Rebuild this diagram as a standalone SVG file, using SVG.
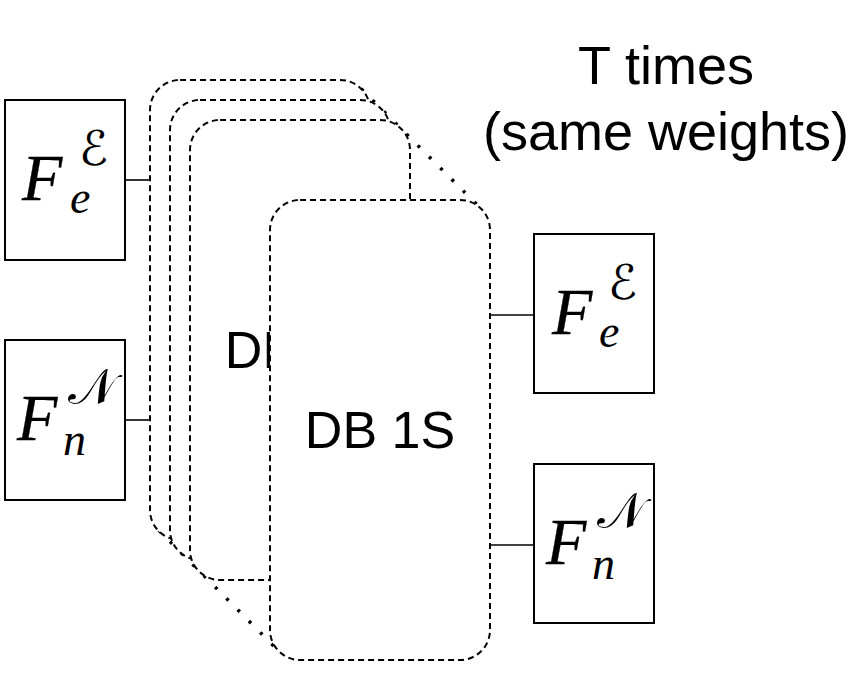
<svg xmlns="http://www.w3.org/2000/svg" width="853" height="696" viewBox="0 0 853 696">
<style>
.box{fill:#fff;stroke:#000;stroke-width:2}
.blk{fill:#fff;stroke:#000;stroke-width:2;stroke-dasharray:6 4}
.dots{fill:none;stroke:#000;stroke-width:3.5;stroke-dasharray:3 13}
.conn{stroke:#000;stroke-width:1.6;fill:none}
.lbl{font-family:"Liberation Sans",Arial,sans-serif;font-size:52px;fill:#000;text-anchor:middle}
.title{font-family:"Liberation Sans",Arial,sans-serif;font-size:54px;fill:#000;text-anchor:middle}
.mF{font-family:"Liberation Serif","DejaVu Serif",serif;font-style:italic;font-size:66px;fill:#000;stroke:#000;stroke-width:0.3}
.mSup{font-family:"DejaVu Serif","DejaVu Sans",serif;font-size:48px;fill:#000}
.mSupN{font-family:"DejaVu Serif","DejaVu Sans",serif;font-size:50px;fill:#000}
.mSub{font-family:"Liberation Serif","DejaVu Serif",serif;font-style:italic;font-size:46px;fill:#000}
</style>
<g id="stack-dots">
<line class="dots" x1="361.2" y1="88.8" x2="481.2" y2="208.8"/>
<line class="dots" x1="158.8" y1="530.2" x2="278.8" y2="651.2"/>
</g>
<g id="db1"><rect class="blk" x="150" y="80" width="220" height="460" rx="30"/></g>
<g id="db2"><rect class="blk" x="170" y="100" width="220" height="460" rx="30"/></g>
<g id="db3"><rect class="blk" x="190" y="120" width="220" height="460" rx="30"/><text class="lbl" x="300" y="368">DB 1S</text></g>
<g id="db4"><rect class="blk" x="270" y="200" width="220" height="460" rx="30"/><text class="lbl" x="380" y="448">DB 1S</text></g>
<g id="in-e"><rect class="box" x="5" y="100" width="120" height="160"/>
<text class="mF" x="22" y="200">F</text><text class="mSup" x="79" y="165">ℰ</text><text class="mSub" x="70" y="213">e</text></g>
<g id="in-n"><rect class="box" x="5" y="340" width="120" height="160"/>
<text class="mF" x="17" y="440">F</text><text class="mSupN" x="68" y="404">𝒩</text><text class="mSub" x="63" y="455">n</text></g>
<g id="out-e"><rect class="box" x="534" y="234" width="120" height="159"/>
<text class="mF" x="552" y="334">F</text><text class="mSup" x="608" y="299">ℰ</text><text class="mSub" x="599" y="347">e</text></g>
<g id="out-n"><rect class="box" x="534" y="464" width="120" height="159"/>
<text class="mF" x="546" y="564">F</text><text class="mSupN" x="597" y="528">𝒩</text><text class="mSub" x="592" y="579">n</text></g>
<g id="connectors">
<line class="conn" x1="125" y1="180" x2="150" y2="180"/>
<line class="conn" x1="125" y1="420" x2="150" y2="420"/>
<line class="conn" x1="490" y1="315" x2="534" y2="315"/>
<line class="conn" x1="490" y1="545" x2="534" y2="545"/>
</g>
<g id="title">
<text class="title" x="666" y="84">T times</text>
<text class="title" x="666" y="150">(same weights)</text>
</g>
</svg>
